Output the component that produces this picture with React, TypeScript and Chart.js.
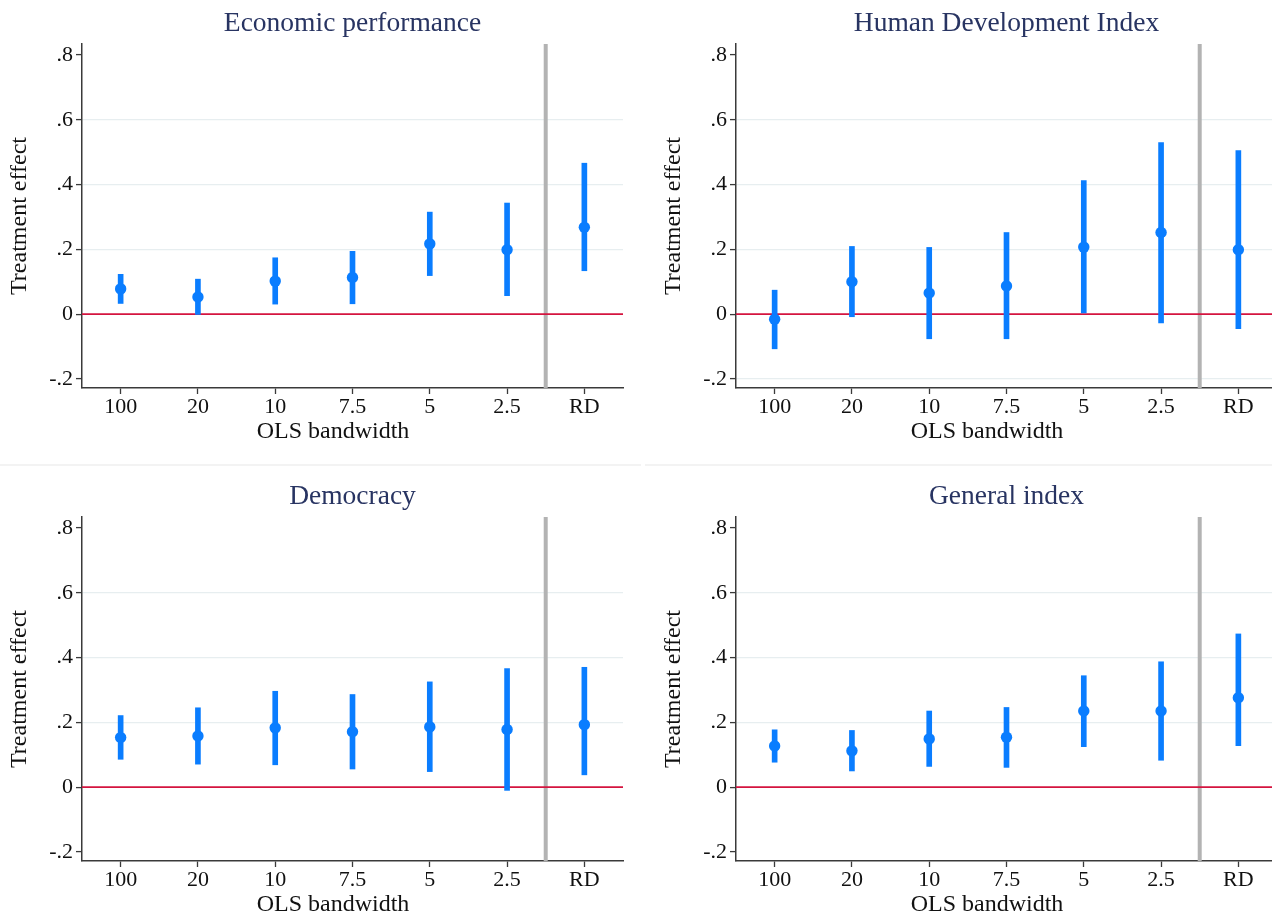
import React, { useEffect, useRef } from 'react';
import { Chart, registerables } from 'chart.js';

Chart.register(...registerables);

// ---- Data -------------------------------------------------------------
const categories = ['100', '20', '10', '7.5', '5', '2.5', 'RD'];
const categoryPositions = [1, 2, 3, 4, 5, 6, 7];
const yTickValues = [-0.2, 0, 0.2, 0.4, 0.6, 0.8];
const yTickLabels = ['-.2', '0', '.2', '.4', '.6', '.8'];
const yMin = -0.228;
const yMax = 0.834;
const xMin = 0.5;
const xMax = 7.5;
const rdSeparator = 6.5;
const referenceValue = 0;
const xAxisTitle = 'OLS bandwidth';
const yAxisTitle = 'Treatment effect';

const econTitle = 'Economic performance';
const econEstimate = [0.078, 0.053, 0.102, 0.113, 0.217, 0.199, 0.268];
const econLower = [0.033, -0.001, 0.031, 0.032, 0.119, 0.057, 0.134];
const econUpper = [0.123, 0.108, 0.174, 0.194, 0.315, 0.343, 0.466];

const hdiTitle = 'Human Development Index';
const hdiEstimate = [-0.016, 0.1, 0.065, 0.087, 0.207, 0.252, 0.199];
const hdiLower = [-0.107, -0.008, -0.076, -0.076, 0.004, -0.027, -0.045];
const hdiUpper = [0.074, 0.209, 0.206, 0.252, 0.412, 0.53, 0.505];

const demTitle = 'Democracy';
const demEstimate = [0.153, 0.158, 0.183, 0.171, 0.186, 0.178, 0.193];
const demLower = [0.086, 0.071, 0.069, 0.056, 0.048, -0.01, 0.038];
const demUpper = [0.221, 0.245, 0.296, 0.286, 0.325, 0.366, 0.37];

const genTitle = 'General index';
const genEstimate = [0.127, 0.112, 0.149, 0.154, 0.235, 0.235, 0.276];
const genLower = [0.077, 0.05, 0.064, 0.061, 0.125, 0.083, 0.128];
const genUpper = [0.177, 0.175, 0.235, 0.246, 0.344, 0.387, 0.473];

// ---- Styles -----------------------------------------------------------
const FONT = '"Liberation Serif", "DejaVu Serif", serif';
const BLUE = '#0a7dff';
const RED = '#d4143f';
const GREY_LINE = '#b3b3b3';
const GRID = '#e7eef0';
const AXIS = '#3a3a3a';
const TITLE = '#283462';
const TEXT = '#111111';

const CANVAS_W = 640;
const CANVAS_H = 442;

type PanelProps = {
  title: string;
  est: number[];
  lo: number[];
  hi: number[];
  gridValues: number[];
  left: number;
  top: number;
};

function Panel({ title, est, lo, hi, gridValues, left, top }: PanelProps) {
  const ref = useRef<HTMLCanvasElement | null>(null);

  useEffect(() => {
    if (!ref.current) return;
    const refLines = {
      id: 'refLines',
      beforeDatasetsDraw(chart: any) {
        const { ctx, chartArea, scales } = chart;
        ctx.save();
        const xp = scales.x.getPixelForValue(rdSeparator);
        ctx.strokeStyle = GREY_LINE;
        ctx.lineWidth = 4;
        ctx.beginPath();
        ctx.moveTo(xp, chartArea.top);
        ctx.lineTo(xp, chartArea.bottom);
        ctx.stroke();
        const yp = scales.y.getPixelForValue(referenceValue);
        ctx.strokeStyle = RED;
        ctx.lineWidth = 1.6;
        ctx.beginPath();
        ctx.moveTo(chartArea.left, yp);
        ctx.lineTo(chartArea.right, yp);
        ctx.stroke();
        ctx.restore();
      },
      afterDraw(chart: any) {
        const { ctx, chartArea } = chart;
        const cx = (chartArea.left + chartArea.right) / 2;
        ctx.save();
        ctx.font = `27.5px ${FONT}`;
        ctx.fillStyle = TITLE;
        ctx.textAlign = 'center';
        ctx.textBaseline = 'middle';
        ctx.fillText(title, cx, 24);
        ctx.font = `24px ${FONT}`;
        ctx.fillStyle = TEXT;
        ctx.fillText(xAxisTitle, cx - 19.5, 432);
        ctx.restore();
      },
    };

    const chart = new Chart(ref.current, {
      type: 'bar',
      data: {
        datasets: [
          {
            type: 'line',
            data: categoryPositions.map((x, i) => ({ x, y: est[i] })),
            showLine: false,
            pointRadius: 5.7,
            pointHoverRadius: 5.7,
            pointBackgroundColor: BLUE,
            pointBorderColor: BLUE,
            pointBorderWidth: 0,
            order: 0,
          } as any,
          {
            type: 'bar',
            data: categoryPositions.map((x, i) => ({ x, y: [lo[i], hi[i]] })),
            backgroundColor: BLUE,
            borderWidth: 0,
            barThickness: 5,
            order: 1,
          } as any,
        ],
      },
      plugins: [refLines],
      options: {
        animation: false,
        responsive: false,
        events: [],
        layout: { padding: { top: 44, left: 0, right: CANVAS_W - 623, bottom: 0 } },
        plugins: {
          legend: { display: false },
          tooltip: { enabled: false },
          title: { display: false },
        },
        scales: {
          x: {
            type: 'linear',
            min: xMin,
            max: xMax,
            offset: false,
            afterFit(scale: any) {
              scale.height = 54;
            },
            afterBuildTicks(scale: any) {
              scale.ticks = categoryPositions.map((v) => ({ value: v }));
            },
            ticks: {
              autoSkip: false,
              maxRotation: 0,
              padding: 0,
              color: TEXT,
              font: { family: FONT, size: 22, lineHeight: 1.2 },
              callback: (v: any) => {
                const idx = categoryPositions.indexOf(Number(v));
                return idx >= 0 ? categories[idx] : '';
              },
            },
            grid: {
              offset: false,
              display: true,
              drawOnChartArea: false,
              drawTicks: true,
              tickLength: 6,
              color: AXIS,
              tickColor: AXIS,
              tickWidth: 1.3,
            },
            border: { display: true, color: AXIS, width: 1.5 },
            title: { display: false },
          },
          y: {
            type: 'linear',
            min: yMin,
            max: yMax,
            afterFit(scale: any) {
              scale.width = 82;
            },
            afterBuildTicks(scale: any) {
              scale.ticks = yTickValues.map((v) => ({ value: v }));
            },
            ticks: {
              padding: 3,
              color: TEXT,
              font: { family: FONT, size: 22 },
              callback: (v: any) => {
                const idx = yTickValues.findIndex((t) => Math.abs(t - Number(v)) < 1e-9);
                return idx >= 0 ? yTickLabels[idx] : '';
              },
            },
            grid: {
              drawTicks: true,
              tickLength: 6,
              tickColor: AXIS,
              tickWidth: 1.3,
              lineWidth: 1.2,
              color: (ctx: any) => {
                const v = ctx.tick ? ctx.tick.value : NaN;
                return gridValues.some((g) => Math.abs(g - v) < 1e-9) ? GRID : 'rgba(0,0,0,0)';
              },
            },
            border: { display: true, color: AXIS, width: 1.5 },
            title: {
              display: true,
              text: yAxisTitle,
              color: TEXT,
              font: { family: FONT, size: 24, lineHeight: 0.85 },
              padding: { top: 9.8, bottom: 0 },
            },
          },
        },
      } as any,
    });
    return () => chart.destroy();
  }, [title, est, lo, hi, gridValues]);

  return (
    <canvas
      ref={ref}
      width={CANVAS_W}
      height={CANVAS_H}
      style={{ position: 'absolute', left, top, width: CANVAS_W, height: CANVAS_H }}
    />
  );
}

const mainGrid = [0.2, 0.4, 0.6];
const hdiGrid = [-0.2, 0.2, 0.4, 0.6];

export default function App() {
  return (
    <div
      style={{
        position: 'absolute',
        left: 0,
        top: 0,
        width: 1272,
        height: 915,
        overflow: 'hidden',
        background: '#ffffff',
      }}
    >
      <div style={{ position: 'absolute', left: 0, top: 464, width: 641, height: 2, background: '#f3f3f3' }} />
      <div style={{ position: 'absolute', left: 645, top: 464, width: 627, height: 2, background: '#f3f3f3' }} />
      <Panel title={econTitle} est={econEstimate} lo={econLower} hi={econUpper} gridValues={mainGrid} left={0} top={0} />
      <Panel title={hdiTitle} est={hdiEstimate} lo={hdiLower} hi={hdiUpper} gridValues={hdiGrid} left={654} top={0} />
      <Panel title={demTitle} est={demEstimate} lo={demLower} hi={demUpper} gridValues={mainGrid} left={0} top={473} />
      <Panel title={genTitle} est={genEstimate} lo={genLower} hi={genUpper} gridValues={mainGrid} left={654} top={473} />
    </div>
  );
}
